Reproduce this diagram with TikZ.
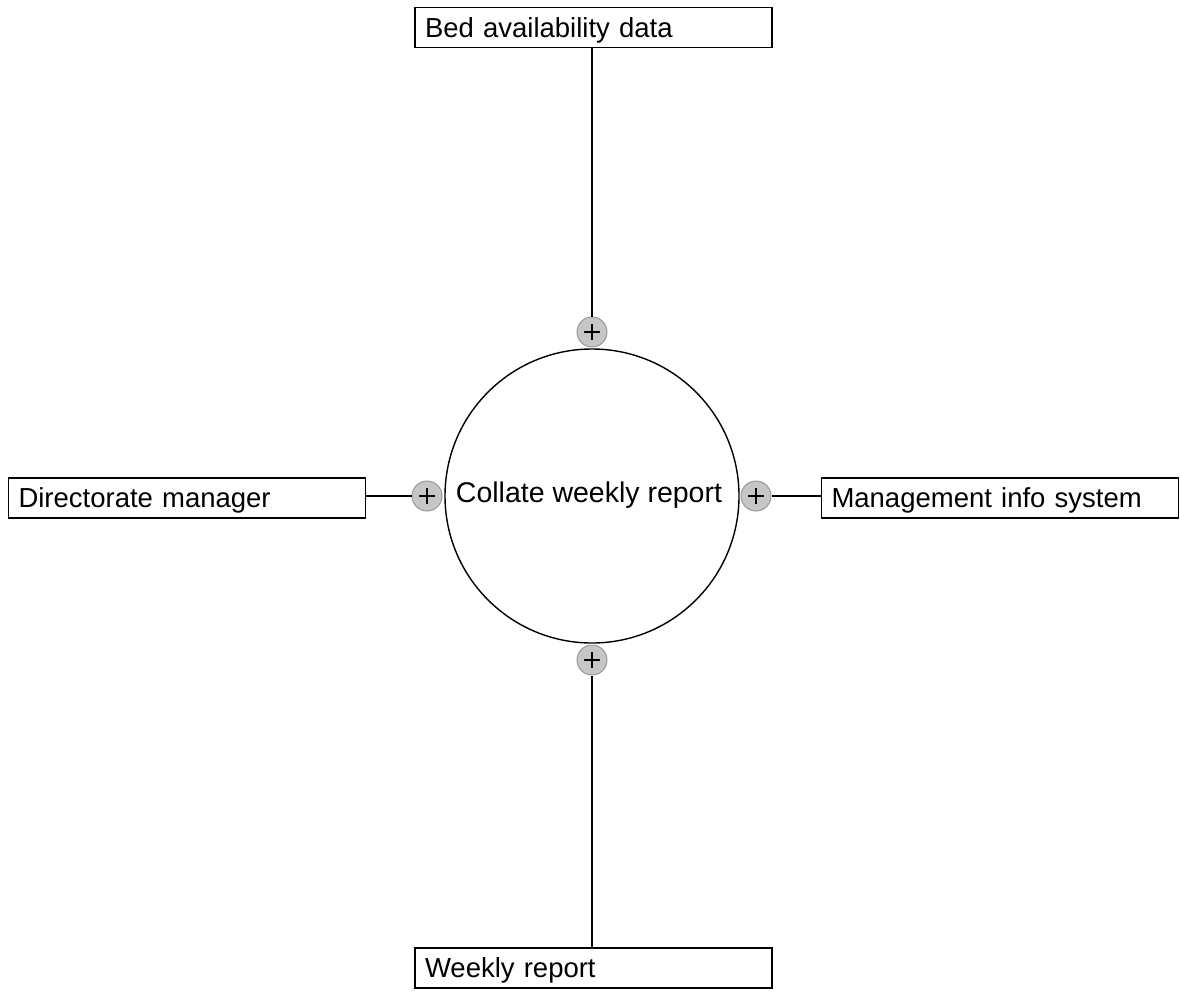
\documentclass[tikz,border=0pt]{standalone}
\usepackage{fontspec}
\setmainfont{Liberation Sans}
\begin{document}
\begin{tikzpicture}[x=1pt,y=-1pt,
  extbox/.style={draw, line width=1.6pt, text width=337pt, align=left, inner xsep=10pt, inner ysep=0pt, minimum height=40pt, text height=19pt, text depth=0pt, font=\fontsize{27.5}{30}\selectfont},
  procircle/.style={draw, circle, line width=1.4pt, minimum size=294pt, inner sep=0pt},
  plusport/.style={circle, draw=gray!80, fill=gray!45, line width=1pt, minimum size=30pt, inner sep=0pt,
    path picture={\draw[black, line width=1.6pt] ([xshift=-8pt]path picture bounding box.center) -- ([xshift=8pt]path picture bounding box.center);
                  \draw[black, line width=1.6pt] ([yshift=-8pt]path picture bounding box.center) -- ([yshift=8pt]path picture bounding box.center);}},
  conn/.style={line width=1.6pt}]
\useasboundingbox[fill=white] (0,0) rectangle (1180,994);
\node[procircle] (proc) at (592,496) {};
\node[font=\fontsize{28.5}{31}\selectfont] (proclabel) at (589,495) {Collate weekly report};
\node[extbox] (bed) at (593.5,27.5) {Bed availability data};
\node[extbox] (dir) at (187,498) {Directorate manager};
\node[extbox] (mis) at (1000,498) {Management info system};
\node[extbox] (wr) at (593.5,968) {Weekly report};
\node[plusport] (pt) at (592,332) {};
\node[plusport] (pb) at (592,660) {};
\node[plusport] (pl) at (427,496) {};
\node[plusport] (pr) at (756,496) {};
\draw[conn] (bed.south -| pt) -- (pt);
\draw[conn] (wr.north -| pb) -- (pb);
\draw[conn] (dir.east |- pl) -- (pl);
\draw[conn] (mis.west |- pr) -- (pr);
\end{tikzpicture}
\end{document}
